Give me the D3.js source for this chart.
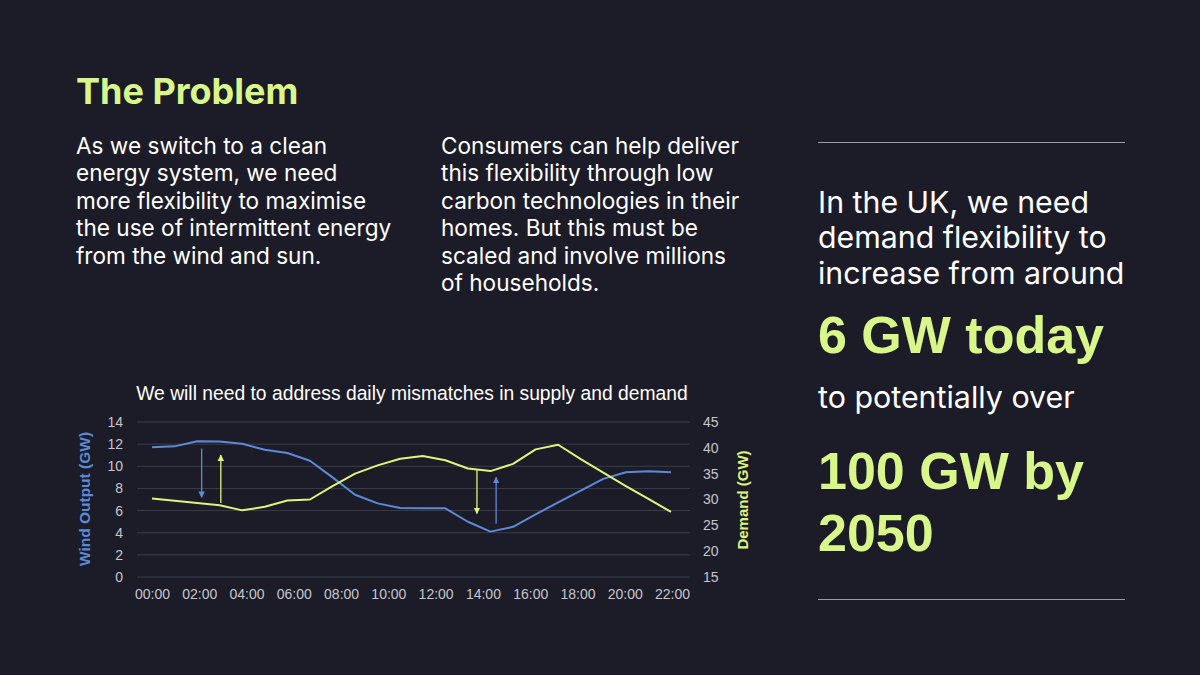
<!DOCTYPE html>
<html>
<head>
<meta charset="utf-8">
<script src="https://cdn.jsdelivr.net/npm/d3@7"></script>
<style>
  html, body { margin: 0; padding: 0; background: #1c1c28; }
  svg { display: block; }
</style>
</head>
<body>
<svg id="slide" width="1200" height="675"></svg>
<script>
// hourly readings, 00:00 .. 23:00
let hours = d3.range(24).map(h => (h < 10 ? "0" : "") + h + ":00");
let windGW = [11.72, 11.8, 12.27, 12.24, 12.03, 11.49, 11.2, 10.5, 9.0, 7.43, 6.65, 6.23,
              6.2, 6.2, 4.99, 4.1, 4.53, 5.65, 6.74, 7.8, 8.86, 9.46, 9.55, 9.46];
let demandGW = [30.2, 29.75, 29.3, 28.9, 27.9, 28.6, 29.8, 30.0, 32.6, 35.0, 36.6, 37.9,
                38.4, 37.6, 36.0, 35.5, 36.9, 39.7, 40.6, 37.8, 35.2, 32.6, 30.1, 27.6];
let xLabels = ["00:00", "02:00", "04:00", "06:00", "08:00", "10:00",
               "12:00", "14:00", "16:00", "18:00", "20:00", "22:00"];
let windTicks = [0, 2, 4, 6, 8, 10, 12, 14];
let demandTicks = [15, 20, 25, 30, 35, 40, 45];
// mismatch arrows: hour position, from value to value
let windArrows = [{h: 2.2, from: 11.6, to: 7.2}, {h: 15.25, from: 4.8, to: 9.0}];
let demandArrows = [{h: 3.05, from: 29.3, to: 38.6}, {h: 14.4, from: 35.8, to: 27.3}];

let paraLeft = ["As we switch to a clean", "energy system, we need", "more flexibility to maximise",
                "the use of intermittent energy", "from the wind and sun."];
let paraMid = ["Consumers can help deliver", "this flexibility through low", "carbon technologies in their",
               "homes. But this must be", "scaled and involve millions", "of households."];
let sideText = ["In the UK, we need", "demand flexibility to", "increase from around"];

let bg = "#1c1c28";
let green = "#d8f68a";
let blue = "#5d8ad8";
let lime = "#def57c";
let bodyFont = "Inter, 'Noto Sans', sans-serif";
let chartFont = "'Liberation Sans', Arial, sans-serif";

let svg = d3.select("#slide");
svg.append("rect").attr("width", 1200).attr("height", 675).attr("fill", bg);

// ---- left text block
svg.append("text")
    .attr("x", 76).attr("y", 104)
    .attr("fill", green)
    .style("font-family", bodyFont)
    .style("font-weight", 700)
    .style("font-size", "36px")
    .text("The Problem");

function addLines(lines, x, y0, step, size, color) {
    svg.append("g").selectAll("text")
        .data(lines)
        .join("text")
        .attr("x", x)
        .attr("y", (d, i) => y0 + i * step)
        .attr("fill", color)
        .style("font-family", bodyFont)
        .style("font-size", size + "px")
        .text(d => d);
}
addLines(paraLeft, 76, 154, 27.4, 22.6, "#ffffff");
addLines(paraMid, 441, 154, 27.4, 22.6, "#ffffff");

// ---- right panel
svg.append("line").attr("x1", 818).attr("x2", 1125).attr("y1", 142.5).attr("y2", 142.5)
    .attr("stroke", "#9a9aa6").attr("stroke-width", 1);
svg.append("line").attr("x1", 818).attr("x2", 1125).attr("y1", 599.5).attr("y2", 599.5)
    .attr("stroke", "#9a9aa6").attr("stroke-width", 1);

addLines(sideText, 818, 213, 35.3, 30.3, "#ffffff");

svg.append("text")
    .attr("x", 818).attr("y", 353)
    .attr("fill", green)
    .style("font-family", chartFont)
    .style("font-weight", 700)
    .style("font-size", "52px")
    .text("6 GW today");
svg.append("text")
    .attr("x", 818).attr("y", 408)
    .attr("fill", "#ffffff")
    .style("font-family", bodyFont)
    .style("font-size", "30.4px")
    .text("to potentially over");
svg.append("g").selectAll("text")
    .data(["100 GW by", "2050"])
    .join("text")
    .attr("x", 818)
    .attr("y", (d, i) => 489 + i * 62)
    .attr("fill", green)
    .style("font-family", chartFont)
    .style("font-weight", 700)
    .style("font-size", "52px")
    .text(d => d);

// ---- chart
let x = d3.scaleLinear().domain([0, 23]).range([152, 671]);
let xLab = d3.scalePoint().domain(xLabels).range([152, 672]);
let yWind = d3.scaleLinear().domain([0, 14]).range([577, 422]);
let yDemand = d3.scaleLinear().domain([15, 45]).range([577, 422]);

svg.append("text")
    .attr("x", 412).attr("y", 400)
    .attr("text-anchor", "middle")
    .attr("fill", "#ffffff")
    .style("font-family", chartFont)
    .style("font-size", "19.3px")
    .text("We will need to address daily mismatches in supply and demand");

// gridlines
svg.append("g").selectAll("line")
    .data(windTicks)
    .join("line")
    .attr("x1", 137).attr("x2", 690)
    .attr("y1", d => yWind(d)).attr("y2", d => yWind(d))
    .attr("stroke", "#3b3c4a")
    .attr("stroke-width", 1);

// axes
let leftAxis = svg.append("g")
    .attr("transform", "translate(123,0)")
    .call(d3.axisLeft(yWind).tickValues(windTicks).tickSize(0).tickPadding(0));
let rightAxis = svg.append("g")
    .attr("transform", "translate(703,0)")
    .call(d3.axisRight(yDemand).tickValues(demandTicks).tickSize(0).tickPadding(0));
let bottomAxis = svg.append("g")
    .attr("transform", "translate(0,587)")
    .call(d3.axisBottom(xLab).tickSize(0).tickPadding(0));
[leftAxis, rightAxis, bottomAxis].forEach(a => {
    a.select(".domain").remove();
    a.selectAll("text")
        .attr("fill", "#c6c6cc")
        .style("font-family", chartFont)
        .style("font-size", "14px");
});
bottomAxis.selectAll("text").attr("dy", "0.85em");

// axis titles
svg.append("text")
    .attr("transform", "translate(90,499) rotate(-90)")
    .attr("text-anchor", "middle")
    .attr("fill", blue)
    .style("font-family", chartFont)
    .style("font-weight", 700)
    .style("font-size", "15.5px")
    .text("Wind Output (GW)");
svg.append("text")
    .attr("transform", "translate(748,500) rotate(-90)")
    .attr("text-anchor", "middle")
    .attr("fill", lime)
    .style("font-family", chartFont)
    .style("font-weight", 700)
    .style("font-size", "15px")
    .text("Demand (GW)");

// lines
svg.append("path")
    .datum(windGW)
    .attr("fill", "none")
    .attr("stroke", blue)
    .attr("stroke-width", 2)
    .attr("stroke-linejoin", "round")
    .attr("d", d3.line().x((d, i) => x(i)).y(d => yWind(d)));
svg.append("path")
    .datum(demandGW)
    .attr("fill", "none")
    .attr("stroke", lime)
    .attr("stroke-width", 2)
    .attr("stroke-linejoin", "round")
    .attr("d", d3.line().x((d, i) => x(i)).y(d => yDemand(d)));

// arrows
let defs = svg.append("defs");
[["headBlue", blue], ["headLime", lime]].forEach(([id, c]) => {
    defs.append("marker")
        .attr("id", id)
        .attr("viewBox", "0 0 10 10")
        .attr("refX", 9).attr("refY", 5)
        .attr("markerWidth", 5).attr("markerHeight", 6)
        .attr("orient", "auto")
        .append("path")
        .attr("d", "M0,0 L10,5 L0,10 z")
        .attr("fill", c);
});
svg.append("g").selectAll("line")
    .data(windArrows)
    .join("line")
    .attr("x1", d => x(d.h)).attr("x2", d => x(d.h))
    .attr("y1", d => yWind(d.from)).attr("y2", d => yWind(d.to))
    .attr("stroke", blue).attr("stroke-width", 1.3)
    .attr("marker-end", "url(#headBlue)");
svg.append("g").selectAll("line")
    .data(demandArrows)
    .join("line")
    .attr("x1", d => x(d.h)).attr("x2", d => x(d.h))
    .attr("y1", d => yDemand(d.from)).attr("y2", d => yDemand(d.to))
    .attr("stroke", lime).attr("stroke-width", 1.3)
    .attr("marker-end", "url(#headLime)");
</script>
</body>
</html>
